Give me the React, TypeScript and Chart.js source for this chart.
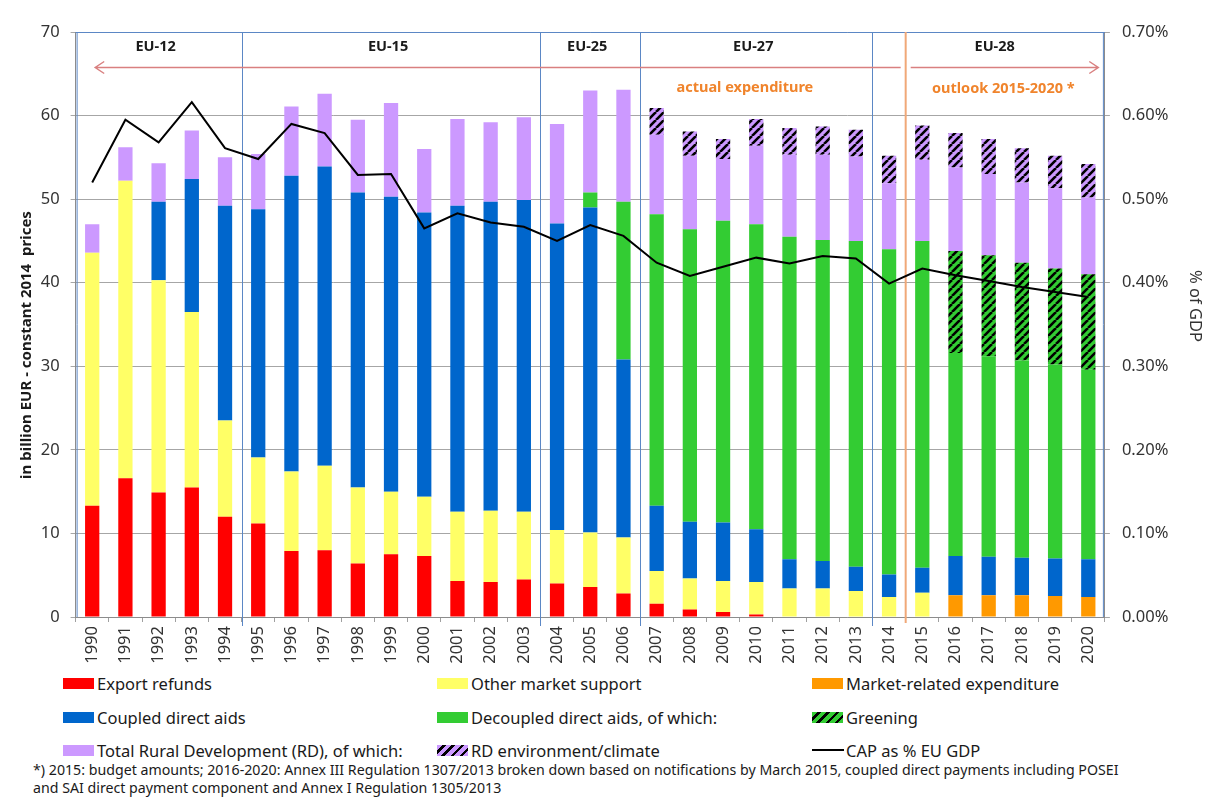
import React, { useEffect, useRef } from 'react';
import { Chart, registerables } from 'chart.js';

Chart.register(...registerables);

// ---------- DATA ----------
const years = [
  '1990', '1991', '1992', '1993', '1994', '1995', '1996', '1997', '1998', '1999',
  '2000', '2001', '2002', '2003', '2004', '2005', '2006', '2007', '2008', '2009',
  '2010', '2011', '2012', '2013', '2014', '2015', '2016', '2017', '2018', '2019', '2020',
];

// billion EUR, constant 2014 prices (stack segments)
const exportRefunds = [
  13.3, 16.6, 14.9, 15.5, 12.0, 11.2, 7.9, 8.0, 6.4, 7.5,
  7.3, 4.3, 4.2, 4.5, 4.0, 3.6, 2.8, 1.6, 0.9, 0.6,
  0.3, 0, 0, 0, 0, 0, 0, 0, 0, 0, 0,
];
const marketRelated = [
  0, 0, 0, 0, 0, 0, 0, 0, 0, 0,
  0, 0, 0, 0, 0, 0, 0, 0, 0, 0,
  0, 0, 0, 0, 0, 0, 2.6, 2.6, 2.6, 2.5, 2.4,
];
const otherMarketSupport = [
  30.3, 35.6, 25.4, 21.0, 11.5, 7.9, 9.5, 10.1, 9.1, 7.5,
  7.1, 8.3, 8.5, 8.1, 6.4, 6.5, 6.7, 3.9, 3.7, 3.7,
  3.9, 3.4, 3.4, 3.1, 2.4, 2.9, 0, 0, 0, 0, 0,
];
const coupledAids = [
  0, 0, 9.4, 15.9, 25.7, 29.7, 35.4, 35.8, 35.3, 35.3,
  34.0, 36.6, 37.0, 37.3, 36.7, 38.9, 21.3, 7.8, 6.8, 7.0,
  6.3, 3.5, 3.3, 2.9, 2.7, 3.0, 4.7, 4.6, 4.5, 4.5, 4.5,
];
const decoupledAids = [
  0, 0, 0, 0, 0, 0, 0, 0, 0, 0,
  0, 0, 0, 0, 0, 1.8, 18.9, 34.9, 35.0, 36.1,
  36.5, 38.6, 38.4, 39.0, 38.9, 39.1, 24.3, 24.0, 23.6, 23.2, 22.7,
];
const greening = [
  0, 0, 0, 0, 0, 0, 0, 0, 0, 0,
  0, 0, 0, 0, 0, 0, 0, 0, 0, 0,
  0, 0, 0, 0, 0, 0, 12.2, 12.1, 11.7, 11.5, 11.4,
];
const ruralDevelopment = [
  3.4, 4.0, 4.6, 5.8, 5.8, 6.6, 8.3, 8.7, 8.7, 11.2,
  7.6, 10.4, 9.5, 9.9, 11.9, 12.2, 13.4, 9.5, 8.8, 7.4,
  9.4, 9.8, 10.2, 10.1, 7.9, 9.7, 10.0, 9.7, 9.6, 9.6, 9.2,
];
const rdEnvironment = [
  0, 0, 0, 0, 0, 0, 0, 0, 0, 0,
  0, 0, 0, 0, 0, 0, 0, 3.2, 2.9, 2.4,
  3.2, 3.2, 3.4, 3.2, 3.3, 4.1, 4.1, 4.2, 4.1, 3.9, 4.0,
];
// CAP as % of EU GDP
const capShareGdp = [
  0.520, 0.595, 0.568, 0.616, 0.561, 0.548, 0.590, 0.579, 0.529, 0.530,
  0.465, 0.483, 0.472, 0.467, 0.450, 0.469, 0.456, 0.424, 0.408, 0.419,
  0.430, 0.423, 0.432, 0.429, 0.399, 0.417, 0.409, 0.402, 0.395, 0.389, 0.383,
];

const eraLabels = ['EU-12', 'EU-15', 'EU-25', 'EU-27', 'EU-28'];
const eraStartYears = ['1990', '1995', '2004', '2007', '2014'];
const outlookStartYear = '2015';

const seriesLabels = {
  exportRefunds: 'Export refunds',
  otherMarketSupport: 'Other market support',
  marketRelated: 'Market-related expenditure',
  coupledAids: 'Coupled direct aids',
  decoupledAids: 'Decoupled direct aids, of which:',
  greening: 'Greening',
  ruralDevelopment: 'Total Rural Development (RD), of which:',
  rdEnvironment: 'RD environment/climate',
  capShareGdp: 'CAP as % EU GDP',
};

const leftAxisTitle = 'in billion EUR - constant 2014  prices';
const rightAxisTitle = '% of GDP';
const actualText = 'actual expenditure';
const outlookText = 'outlook 2015-2020 *';
const footnoteLines = [
  '*) 2015: budget amounts; 2016-2020: Annex III Regulation 1307/2013 broken down based on notifications by March 2015, coupled direct payments including POSEI',
  'and SAI direct payment component and Annex I Regulation 1305/2013',
];

// ---------- STYLE ----------
const FONT = "'Noto Sans', 'DejaVu Sans', sans-serif";
const C = {
  red: '#ff0000',
  yellow: '#ffff66',
  orange: '#ff9900',
  blue: '#0066cc',
  green: '#33cc33',
  purple: '#cc99ff',
};

function makeHatch(bg: string): CanvasPattern | string {
  const s = 8;
  const c = document.createElement('canvas');
  c.width = s;
  c.height = s;
  const g = c.getContext('2d');
  if (!g) return bg;
  g.fillStyle = bg;
  g.fillRect(0, 0, s, s);
  g.strokeStyle = '#000';
  g.lineWidth = 2.6;
  g.beginPath();
  for (const k of [-s, 0, s]) {
    g.moveTo(k, s);
    g.lineTo(k + s, 0);
  }
  g.stroke();
  const p = g.createPattern(c, 'repeat');
  return p || bg;
}

const annotationPlugin = {
  id: 'eraAnnotations',
  beforeDatasetsDraw(chart: any) {
    const { ctx, chartArea, scales } = chart;
    const x = scales.x;
    const boundary = (yr: string) => {
      const i = years.indexOf(yr);
      return (x.getPixelForValue(i - 1) + x.getPixelForValue(i)) / 2;
    };
    ctx.save();
    ctx.strokeStyle = '#5b87c5';
    ctx.lineWidth = 1;
    ctx.beginPath();
    ctx.moveTo(chartArea.left, chartArea.top + 0.5);
    ctx.lineTo(chartArea.right, chartArea.top + 0.5);
    ctx.moveTo(chartArea.left + 1.5, chartArea.top);
    ctx.lineTo(chartArea.left + 1.5, chartArea.bottom);
    ctx.moveTo(chartArea.right - 1.5, chartArea.top);
    ctx.lineTo(chartArea.right - 1.5, chartArea.bottom);
    ctx.stroke();
    for (const yr of eraStartYears.slice(1)) {
      const px = Math.round(boundary(yr)) + 0.5;
      ctx.beginPath();
      ctx.moveTo(px, chartArea.top);
      ctx.lineTo(px, chartArea.bottom + 9);
      ctx.stroke();
    }
    const ox = boundary(outlookStartYear);
    ctx.strokeStyle = '#f0a878';
    ctx.lineWidth = 2;
    ctx.beginPath();
    ctx.moveTo(ox, chartArea.top);
    ctx.lineTo(ox, chartArea.bottom + 6);
    ctx.stroke();
    ctx.restore();
  },
  afterDatasetsDraw(chart: any) {
    const { ctx, chartArea, scales } = chart;
    const x = scales.x;
    const boundary = (idx: number) =>
      idx <= 0 ? chartArea.left : idx >= years.length ? chartArea.right
        : (x.getPixelForValue(idx - 1) + x.getPixelForValue(idx)) / 2;
    ctx.save();
    ctx.fillStyle = '#1a1a1a';
    ctx.font = `bold 14.5px ${FONT}`;
    ctx.textAlign = 'center';
    ctx.textBaseline = 'middle';
    eraStartYears.forEach((yr, k) => {
      const a = boundary(years.indexOf(yr));
      const b = k + 1 < eraStartYears.length ? boundary(years.indexOf(eraStartYears[k + 1])) : chartArea.right;
      const shift = k === eraLabels.length - 1 ? 6 : -3;
      ctx.fillText(eraLabels[k], (a + b) / 2 + shift, chartArea.top + 15);
    });
    const ay = chartArea.top + 35.5;
    const ox = boundary(years.indexOf(outlookStartYear));
    const lx = x.getPixelForValue(0) + 3;
    const rx = x.getPixelForValue(years.length - 1) + 10;
    ctx.strokeStyle = '#d98080';
    ctx.lineWidth = 1.5;
    ctx.beginPath();
    ctx.moveTo(lx, ay);
    ctx.lineTo(ox - 5, ay);
    ctx.moveTo(ox + 5, ay);
    ctx.lineTo(rx, ay);
    ctx.moveTo(lx + 9, ay - 6);
    ctx.lineTo(lx, ay);
    ctx.lineTo(lx + 9, ay + 6);
    ctx.moveTo(rx - 9, ay - 6);
    ctx.lineTo(rx, ay);
    ctx.lineTo(rx - 9, ay + 6);
    ctx.stroke();
    ctx.fillStyle = '#f0842c';
    ctx.font = `bold 14.5px ${FONT}`;
    const aStart = boundary(years.indexOf('2007'));
    ctx.fillText(actualText, (aStart + ox) / 2 - 28, chartArea.top + 56);
    ctx.fillText(outlookText, (ox + chartArea.right) / 2 - 2, chartArea.top + 57);
    ctx.restore();
  },
  afterDraw(chart: any) {
    const { ctx } = chart;
    ctx.save();
    ctx.fillStyle = '#1a1a1a';
    ctx.textAlign = 'center';
    ctx.textBaseline = 'middle';
    ctx.font = `bold 15px ${FONT}`;
    ctx.translate(27, 345);
    ctx.rotate(-Math.PI / 2);
    ctx.fillText(leftAxisTitle, 0, 0);
    ctx.restore();
    ctx.save();
    ctx.fillStyle = '#333';
    ctx.textAlign = 'center';
    ctx.textBaseline = 'middle';
    ctx.font = `16.5px ${FONT}`;
    ctx.translate(1195, 306);
    ctx.rotate(Math.PI / 2);
    ctx.fillText(rightAxisTitle, 0, 0);
    ctx.restore();
  },
};

type LegendItem = { label: string; kind: 'box' | 'hatch' | 'line'; color: string };

const legendItems: LegendItem[] = [
  { label: seriesLabels.exportRefunds, kind: 'box', color: C.red },
  { label: seriesLabels.otherMarketSupport, kind: 'box', color: C.yellow },
  { label: seriesLabels.marketRelated, kind: 'box', color: C.orange },
  { label: seriesLabels.coupledAids, kind: 'box', color: C.blue },
  { label: seriesLabels.decoupledAids, kind: 'box', color: C.green },
  { label: seriesLabels.greening, kind: 'hatch', color: C.green },
  { label: seriesLabels.ruralDevelopment, kind: 'box', color: C.purple },
  { label: seriesLabels.rdEnvironment, kind: 'hatch', color: C.purple },
  { label: seriesLabels.capShareGdp, kind: 'line', color: '#000' },
];

const legendCols = [63, 437, 812];
const legendRows = [683, 717, 750];

function LegendSwatch({ item }: { item: LegendItem }) {
  if (item.kind === 'line') {
    return <span style={{ display: 'inline-block', width: 32, height: 2, background: '#000', marginRight: 2 }} />;
  }
  const bg = item.kind === 'hatch'
    ? `repeating-linear-gradient(135deg, ${item.color} 0px, ${item.color} 4px, #000 4px, #000 6.5px)`
    : item.color;
  return <span style={{ display: 'inline-block', width: 31, height: 11, background: bg, marginRight: 3 }} />;
}

export default function App() {
  const canvasRef = useRef<HTMLCanvasElement | null>(null);

  useEffect(() => {
    const canvas = canvasRef.current;
    if (!canvas) return;
    const greenHatch = makeHatch(C.green);
    const purpleHatch = makeHatch(C.purple);

    const bar = (label: string, data: number[], color: any) => ({
      type: 'bar' as const,
      label,
      data,
      backgroundColor: color,
      borderWidth: 0,
      stack: 'cap',
      yAxisID: 'y',
      barPercentage: 0.43,
      categoryPercentage: 1,
      order: 1,
    });

    const tickFont = { family: FONT, size: 16.5 };

    const chart = new Chart(canvas, {
      type: 'bar',
      data: {
        labels: years,
        datasets: [
          bar(seriesLabels.exportRefunds, exportRefunds, C.red),
          bar(seriesLabels.marketRelated, marketRelated, C.orange),
          bar(seriesLabels.otherMarketSupport, otherMarketSupport, C.yellow),
          bar(seriesLabels.coupledAids, coupledAids, C.blue),
          bar(seriesLabels.decoupledAids, decoupledAids, C.green),
          bar(seriesLabels.greening, greening, greenHatch),
          bar(seriesLabels.ruralDevelopment, ruralDevelopment, C.purple),
          bar(seriesLabels.rdEnvironment, rdEnvironment, purpleHatch),
          {
            type: 'line' as const,
            label: seriesLabels.capShareGdp,
            data: capShareGdp,
            borderColor: '#000',
            backgroundColor: '#000',
            borderWidth: 2,
            pointRadius: 0,
            tension: 0,
            yAxisID: 'y1',
            order: 0,
          } as any,
        ],
      },
      options: {
        responsive: false,
        animation: false,
        devicePixelRatio: 1,
        events: [],
        layout: { padding: { top: 32, left: 0, right: 0, bottom: 0 } },
        plugins: {
          legend: { display: false },
          tooltip: { enabled: false },
          title: { display: false },
        },
        scales: {
          x: {
            stacked: true,
            offset: true,
            grid: { drawOnChartArea: false, drawTicks: true, tickLength: 5, color: '#a0a0a0', offset: true },
            border: { color: '#8c8c8c' },
            ticks: {
              autoSkip: false,
              minRotation: 90,
              maxRotation: 90,
              padding: 4,
              color: '#333',
              font: tickFont,
            },
            afterFit: (s: any) => { s.height = 53; },
          },
          y: {
            stacked: true,
            position: 'left',
            min: 0,
            max: 70,
            ticks: { stepSize: 10, padding: 11, color: '#333', font: tickFont },
            grid: { color: '#a6a6a6', tickLength: 5 },
            border: { color: '#8c8c8c' },
            afterFit: (s: any) => { s.width = 75.6; },
          },
          y1: {
            position: 'right',
            min: 0,
            max: 0.7,
            ticks: {
              stepSize: 0.1,
              padding: 12,
              color: '#333',
              font: tickFont,
              callback: (v: any) => `${Number(v).toFixed(2)}%`,
            },
            grid: { drawOnChartArea: false, tickLength: 5, color: '#a6a6a6' },
            border: { color: '#8c8c8c' },
            afterFit: (s: any) => { s.width = 104.1; },
          },
        },
      } as any,
      plugins: [annotationPlugin],
    });
    return () => chart.destroy();
  }, []);

  return (
    <div style={{ position: 'absolute', left: 0, top: 0, width: 1209, height: 810, background: '#fff', fontFamily: FONT, overflow: 'hidden' }}>
      <canvas ref={canvasRef} width={1209} height={670} style={{ position: 'absolute', left: 0, top: 0 }} />
      {legendItems.map((item, i) => (
        <div
          key={item.label}
          style={{
            position: 'absolute',
            left: legendCols[i % 3],
            top: legendRows[Math.floor(i / 3)] - 11,
            height: 22,
            display: 'flex',
            alignItems: 'center',
            fontSize: 16.5,
            color: '#1a1a1a',
            whiteSpace: 'nowrap',
          }}
        >
          <LegendSwatch item={item} />
          <span>{item.label}</span>
        </div>
      ))}
      {footnoteLines.map((line, i) => (
        <div
          key={i}
          style={{
            position: 'absolute',
            left: 33,
            top: 760 + i * 18,
            fontSize: 14.2,
            lineHeight: '20px',
            color: '#1a1a1a',
            whiteSpace: 'nowrap',
          }}
        >
          {line}
        </div>
      ))}
    </div>
  );
}
